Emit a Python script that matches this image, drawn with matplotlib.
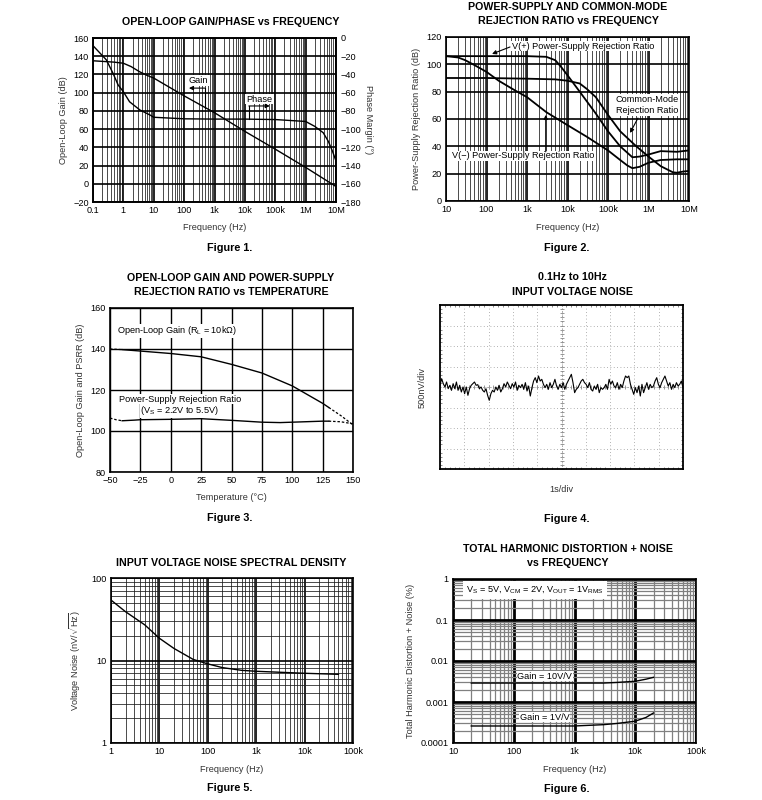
import numpy as np
import matplotlib
matplotlib.use('Agg')
from matplotlib import pyplot as plt
from matplotlib.ticker import FixedLocator, NullFormatter, LogLocator

plt.rcParams['font.family'] = ['Liberation Sans', 'DejaVu Sans']
plt.rcParams['mathtext.fontset'] = 'custom'
plt.rcParams['mathtext.rm'] = 'Liberation Sans'
plt.rcParams['mathtext.it'] = 'Liberation Sans:italic'
plt.rcParams['mathtext.bf'] = 'Liberation Sans:bold'

# ---- Figure 1: open-loop gain / phase
f1_gain_freq = [0.1, 0.5, 1, 1.8, 3.4, 6, 10, 100, 1e3, 1e4, 1e5, 1e6, 1e7]
f1_gain = [135, 133.5, 132.3, 128.6, 123, 119, 116, 96.5, 78, 57.5, 38, 18, -3]
f1_phase_freq = [0.1, 0.275, 0.46, 0.67, 1, 1.6, 3.5, 7.6, 10, 100, 1e3, 1e4, 1e5,
                 1e6, 2e6, 3.8e6, 5.6e6, 7.6e6, 1e7]
f1_phase = [-8.4, -24, -39, -51.5, -59, -70, -79, -84.6, -87, -88.7, -89, -89, -89.5,
            -91.6, -97, -104, -113.5, -124, -135]

# ---- Figure 2: PSRR / CMRR vs frequency
f2_pos_freq = [10, 100, 1e3, 3e3, 5e3, 7e3, 1e4, 2e4, 5e4, 1e5, 2e5, 4e5, 6e5, 1e6, 2e6, 5e6, 1e7]
f2_pos = [106, 106, 106, 105.5, 103, 98, 92, 80, 64, 51, 40, 32, 32.5, 34, 36.5, 36, 37]
f2_cm_freq = [10, 100, 1e3, 5e3, 1e4, 2e4, 3e4, 5e4, 1e5, 2e5, 5e5, 1e6, 2e6, 4e6, 5e6, 7e6, 1e7]
f2_cm = [90, 90, 89.5, 89, 88, 86, 82, 76, 63, 51, 40, 32.5, 25.5, 21, 20.7, 21.5, 22]
f2_neg_freq = [10, 20, 30, 50, 100, 200, 500, 1e3, 3e3, 1e4, 3e4, 1e5, 2e5, 3e5, 4e5, 6e5,
               1e6, 2e6, 5e6, 1e7]
f2_neg = [106, 105, 103, 99.5, 94.5, 88, 81, 76, 65, 55.5, 47, 37, 30, 26, 24, 25,
          28, 30, 30.5, 30.5]

# ---- Figure 3: vs temperature
f3_temp = [-50, -40, -25, 0, 25, 50, 75, 100, 125, 130, 140, 150]
f3_gain = [140, 139.7, 139, 137.8, 136.2, 132.5, 128.3, 122, 113.5, 111.5, 107.5, 103]
f3_psrr_temp = [-50, -45, -40, -30, -25, 0, 25, 50, 75, 90, 100, 125, 130, 140, 150]
f3_psrr = [106.3, 105.5, 105, 105.3, 105.5, 105.7, 106, 105.2, 104.3, 104.1, 104.3,
           104.8, 104.8, 104.5, 103.5]

# ---- Figure 4: 0.1Hz to 10Hz noise trace (nV)
f4_noise = [41, 203, 81, 0, 122, -41, 41, -81, 81, -41, 122, -81, 41, -122, 0, -163, 0,
            -203, -41, 41, 81, 122, 41, 57, -41, 0, -81, -122, -41, -203, -325, -163,
            -81, -122, 0, -81, 41, -122, -41, 81, 0, 122, 41, -41, 81, 0, 122, -81, 41,
            -16, 65, -57, 106, -98, 24, -220, -16, 146, 228, 106, 268, 146, 187, 65, -16,
            65, -57, 106, -16, 65, 187, 24, -57, 65, -16, 106, -57, 65, 146, 228, 309,
            106, -138, -57, -16, 65, 146, 187, 106, 65, -16, 106, -57, -98, 24, -57, 65,
            -138, -16, -57,
            -16, 65, -57, 187, 65, 146, 24, -16, 106, -57, 65, -16, 146, 268, 228, 268,
            65, -57, -179, -16, -138, 24, -220, 65, -138, -16, 106, -57, 65, -16, 24,
            146, 228, 65, -16, 106, 187, 268, 146, 24, 106, -57, 65, -16, 106, 24, 65,
            146, -16]

# ---- Figure 5: noise density
f5_freq = [1, 2, 5, 10, 20, 50, 100, 200, 500, 1e3, 1e4, 5e4]
f5_noise = [54, 39, 27, 18.6, 14, 10.3, 9.1, 8.2, 7.6, 7.4, 7.0, 6.8]

# ---- Figure 6: THD+N
f6_freq = [20, 100, 1e3, 3e3, 5e3, 1e4, 1.5e4, 2e4]
f6_gain10 = [0.0029, 0.0029, 0.0029, 0.0029, 0.003, 0.0032, 0.0036, 0.004]
f6_gain1 = [0.00026, 0.00026, 0.00026, 0.00028, 0.0003, 0.00034, 0.00042, 0.00054]

W, H = 762, 800
fig = plt.figure(figsize=(W / 100, H / 100), dpi=100)
LBL = '#333333'
TFS = 7.7   # title size
AFS = 6.6   # axis label size


def box(x0, y0, x1, y1):
    return fig.add_axes([x0 / W, 1 - y1 / H, (x1 - x0) / W, (y1 - y0) / H])


def ftext(x, y, s, **kw):
    fig.text(x / W, 1 - y / H, s, ha='center', va='center', **kw)


def style(ax):
    ax.tick_params(which='both', length=0, labelsize=6.6, pad=3)
    for s in ax.spines.values():
        s.set_linewidth(1.2)


def logx(ax, lo, hi, ticks, labels):
    ax.set_xscale('log')
    ax.set_xlim(lo, hi)
    ax.xaxis.set_major_locator(FixedLocator(ticks))
    ax.xaxis.set_minor_locator(LogLocator(base=10, subs=np.arange(2, 10), numticks=60))
    ax.xaxis.set_minor_formatter(NullFormatter())
    ax.set_xticklabels(labels)


def logy(ax, lo, hi, ticks, labels):
    ax.set_yscale('log')
    ax.set_ylim(lo, hi)
    ax.yaxis.set_major_locator(FixedLocator(ticks))
    ax.yaxis.set_minor_locator(LogLocator(base=10, subs=np.arange(2, 10), numticks=60))
    ax.yaxis.set_minor_formatter(NullFormatter())
    ax.set_yticklabels(labels)


white = dict(fc='white', ec='none', pad=0.6)
arrow = dict(arrowstyle='-|>', color='k', lw=0.8, mutation_scale=6, shrinkA=0, shrinkB=0)

# ================= Figure 1
ax = box(93, 38, 336, 202)
style(ax)
logx(ax, 0.1, 1e7, [0.1, 1, 10, 100, 1e3, 1e4, 1e5, 1e6, 1e7],
     ['0.1', '1', '10', '100', '1k', '10k', '100k', '1M', '10M'])
ax.set_ylim(-20, 160)
ax.set_yticks(np.arange(-20, 161, 20))
ax.grid(True, which='major', color='k', lw=1.2)
ax.grid(True, which='minor', axis='x', color='#1a1a1a', lw=0.55)
ax.plot(f1_gain_freq, f1_gain, color='k', lw=1.0)
ax.set_ylabel('Open-Loop Gain (dB)', fontsize=AFS, color=LBL, labelpad=4)
ax.set_xlabel('Frequency (Hz)', fontsize=AFS, color=LBL, labelpad=6)
ax.text(300, 113, 'Gain', fontsize=AFS, ha='center', va='center', bbox=white, zorder=5)
ax.annotate('', xy=(144, 105), xytext=(483, 105), arrowprops=arrow, zorder=5)
ax.plot([483, 483], [105, 83], color='k', lw=0.8, zorder=5)
ax.text(2.9e4, 93, 'Phase', fontsize=AFS, ha='center', va='center', bbox=white, zorder=5)
ax.annotate('', xy=(6.6e4, 85.4), xytext=(1.35e4, 85.4), arrowprops=arrow, zorder=5)
ax.plot([1.35e4, 1.35e4], [85.4, 71], color='k', lw=0.8, zorder=5)
ax2 = ax.twinx()
style(ax2)
ax2.set_ylim(-180, 0)
ax2.set_yticks(np.arange(-180, 1, 20))
ax2.plot(f1_phase_freq, f1_phase, color='k', lw=1.0)
ax2.set_ylabel('Phase Margin (°)', fontsize=AFS, color=LBL, rotation=-90, labelpad=9)
ftext(231, 22, 'OPEN-LOOP GAIN/PHASE vs FREQUENCY', fontsize=TFS, fontweight='bold')
ftext(230, 248, 'Figure 1.', fontsize=7.8, fontweight='bold')

# ================= Figure 2
ax = box(446, 37, 689, 201)
style(ax)
logx(ax, 10, 1e7, [10, 100, 1e3, 1e4, 1e5, 1e6, 1e7],
     ['10', '100', '1k', '10k', '100k', '1M', '10M'])
ax.set_ylim(0, 120)
ax.set_yticks(np.arange(0, 121, 20))
ax.grid(True, which='major', color='k', lw=1.2)
ax.grid(True, which='minor', axis='x', color='#1a1a1a', lw=0.55)
ax.plot(f2_pos_freq, f2_pos, color='k', lw=1.3)
ax.plot(f2_cm_freq, f2_cm, color='k', lw=1.3)
ax.plot(f2_neg_freq, f2_neg, color='k', lw=1.3)
ax.set_ylabel('Power-Supply Rejection Ratio (dB)', fontsize=AFS, color=LBL, labelpad=4)
ax.set_xlabel('Frequency (Hz)', fontsize=AFS, color=LBL, labelpad=6)
ax.text(2.4e4, 113.4, 'V(+) Power-Supply Rejection Ratio', fontsize=AFS, ha='center',
        va='center', bbox=white, zorder=5)
ax.annotate('', xy=(137, 107.6), xytext=(380, 112.7), arrowprops=arrow, zorder=5)
ax.text(9.2e5, 70, 'Common-Mode\nRejection Ratio', fontsize=AFS, ha='center', va='center',
        bbox=white, zorder=5, linespacing=1.3)
ax.annotate('', xy=(3.5e5, 49.8), xytext=(5.5e5, 60.7), arrowprops=arrow, zorder=5)
ax.text(800, 33, 'V(−) Power-Supply Rejection Ratio', fontsize=AFS, ha='center',
        va='center', bbox=white, zorder=5)
ax.annotate('', xy=(2.9e3, 63), xytext=(2.9e3, 36), arrowprops=arrow, zorder=5)
ftext(568, 7, 'POWER-SUPPLY AND COMMON-MODE', fontsize=TFS, fontweight='bold')
ftext(568, 21, 'REJECTION RATIO vs FREQUENCY', fontsize=TFS, fontweight='bold')
ftext(567, 248, 'Figure 2.', fontsize=7.8, fontweight='bold')

# ================= Figure 3
ax = box(110, 308, 353, 472)
style(ax)
ax.set_xlim(-50, 150)
ax.set_ylim(80, 160)
ax.set_xticks(np.arange(-50, 151, 25))
ax.set_yticks(np.arange(80, 161, 20))
ax.grid(True, color='k', lw=1.0)
t = np.array(f3_temp)
g = np.array(f3_gain)
m = (t >= -40) & (t <= 130)
ax.plot(t[m], g[m], color='k', lw=1.0)
ax.plot(t[t <= -40], g[t <= -40], color='k', lw=0.9, ls=(0, (2, 1.5)))
ax.plot(t[t >= 130], g[t >= 130], color='k', lw=0.9, ls=(0, (2, 1.5)))
t = np.array(f3_psrr_temp)
p = np.array(f3_psrr)
m = (t >= -40) & (t <= 130)
ax.plot(t[m], p[m], color='k', lw=1.0)
ax.plot(t[t <= -40], p[t <= -40], color='k', lw=0.9, ls=(0, (2, 1.5)))
ax.plot(t[t >= 130], p[t >= 130], color='k', lw=0.9, ls=(0, (2, 1.5)))
ax.text(-44, 148.8, r'Open-Loop Gain (R$_\mathrm{L}$ = 10kΩ)', fontsize=AFS, va='center',
        bbox=white)
ax.text(-42.6, 115.6, 'Power-Supply Rejection Ratio', fontsize=AFS, va='center', bbox=white)
ax.text(-25, 109.8, r'(V$_\mathrm{S}$ = 2.2V to 5.5V)', fontsize=AFS, va='center', bbox=white)
ax.set_ylabel('Open-Loop Gain and PSRR (dB)', fontsize=AFS, color=LBL, labelpad=4)
ax.set_xlabel('Temperature (°C)', fontsize=AFS, color=LBL, labelpad=6)
ftext(231, 278, 'OPEN-LOOP GAIN AND POWER-SUPPLY', fontsize=TFS, fontweight='bold')
ftext(231, 292, 'REJECTION RATIO vs TEMPERATURE', fontsize=TFS, fontweight='bold')
ftext(230, 518, 'Figure 3.', fontsize=7.8, fontweight='bold')

# ================= Figure 4
ax = box(440, 305, 683, 469)
for s in ax.spines.values():
    s.set_linewidth(1.3)
ax.set_xlim(0, 10)
ax.set_ylim(-2000, 2000)
ax.set_xticks(np.arange(0, 11, 1))
ax.set_yticks(np.arange(-2000, 2001, 500))
ax.set_xticks(np.arange(0, 10.01, 0.2), minor=True)
ax.set_yticks(np.arange(-2000, 2001, 100), minor=True)
ax.tick_params(which='major', length=0, labelbottom=False, labelleft=False)
ax.tick_params(which='minor', length=1.5, direction='in', top=True, right=True,
               color='#777777', width=0.6)
ax.grid(True, which='major', color='#999999', lw=0.6, ls=(0, (1, 3)))
ax.axhline(0, color='#888888', lw=0.6, ls=(0, (1, 2)))
ax.axvline(5, color='#888888', lw=0.6, ls=(0, (1, 2)))
tk = np.arange(0, 10.01, 0.2)
ax.plot(tk, np.zeros_like(tk), '|', color='#888888', ms=2.5, mew=0.6)
tk = np.arange(-2000, 2001, 100)
ax.plot(np.full_like(tk, 5.0, dtype=float), tk, '_', color='#888888', ms=2.5, mew=0.6)
ts = np.linspace(0, 10, len(f4_noise))
ax.plot(ts, f4_noise, color='k', lw=0.8)
ax.set_ylabel('500nV/div', fontsize=AFS, color=LBL, labelpad=6)
ax.set_xlabel('1s/div', fontsize=AFS, color=LBL, labelpad=8)
ftext(572, 277, '0.1Hz to 10Hz', fontsize=TFS, fontweight='bold')
ftext(572, 292, 'INPUT VOLTAGE NOISE', fontsize=TFS, fontweight='bold')
ftext(567, 519, 'Figure 4.', fontsize=7.8, fontweight='bold')

# ================= Figure 5
ax = box(111, 578, 353, 743)
style(ax)
logx(ax, 1, 1e5, [1, 10, 100, 1e3, 1e4, 1e5], ['1', '10', '100', '1k', '10k', '100k'])
logy(ax, 1, 100, [1, 10, 100], ['1', '10', '100'])
ax.grid(True, which='major', color='k', lw=1.2)
ax.grid(True, which='minor', color='#1a1a1a', lw=0.55)
ax.plot(f5_freq, f5_noise, color='k', lw=1.0)
ax.set_ylabel(r'Voltage Noise (nV/$\sqrt{\mathrm{Hz}}$)', fontsize=AFS, color=LBL, labelpad=6)
ax.set_xlabel('Frequency (Hz)', fontsize=AFS, color=LBL, labelpad=6)
ftext(231, 563, 'INPUT VOLTAGE NOISE SPECTRAL DENSITY', fontsize=TFS, fontweight='bold')
ftext(230, 788, 'Figure 5.', fontsize=7.8, fontweight='bold')

# ================= Figure 6
ax = box(453, 579, 696, 743)
style(ax)
logx(ax, 10, 1e5, [10, 100, 1e3, 1e4, 1e5], ['10', '100', '1k', '10k', '100k'])
logy(ax, 1e-4, 1, [1e-4, 1e-3, 1e-2, 0.1, 1], ['0.0001', '0.001', '0.01', '0.1', '1'])
ax.grid(True, which='major', color='k', lw=2.0)
ax.grid(True, which='minor', color='#808080', lw=0.9)
ax.plot(f6_freq, f6_gain10, color='k', lw=1.0)
ax.plot(f6_freq, f6_gain1, color='k', lw=1.0)
ax.text(224, 0.55,
        r'V$_\mathrm{S}$ = 5V, V$_\mathrm{CM}$ = 2V, V$_\mathrm{OUT}$ = 1V$_\mathrm{RMS}$',
        fontsize=AFS, ha='center', va='center', zorder=5,
        bbox=dict(fc='white', ec='none', pad=2.5))
ax.text(326, 0.0043, 'Gain = 10V/V', fontsize=AFS, ha='center', va='center', bbox=white,
        zorder=5)
ax.text(320, 0.00043, 'Gain = 1V/V', fontsize=AFS, ha='center', va='center', bbox=white,
        zorder=5)
ax.set_ylabel('Total Harmonic Distortion + Noise (%)', fontsize=AFS, color=LBL, labelpad=4)
ax.set_xlabel('Frequency (Hz)', fontsize=AFS, color=LBL, labelpad=6)
ftext(568, 549, 'TOTAL HARMONIC DISTORTION + NOISE', fontsize=TFS, fontweight='bold')
ftext(568, 563, 'vs FREQUENCY', fontsize=TFS, fontweight='bold')
ftext(567, 789, 'Figure 6.', fontsize=7.8, fontweight='bold')

fig.savefig('out.png', dpi=100)
